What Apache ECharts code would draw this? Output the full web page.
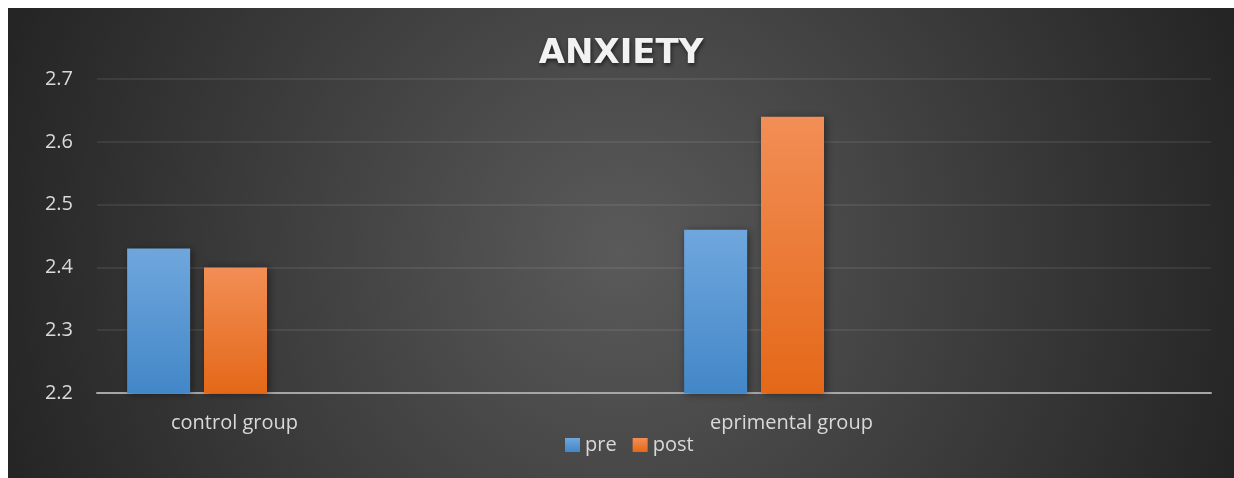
<!DOCTYPE html>
<html>
<head>
<meta charset="utf-8">
<script src="https://cdn.jsdelivr.net/npm/echarts@6/dist/echarts.min.js"></script>
<style>
  html, body { margin: 0; padding: 0; background: #ffffff; }
  #chart { position: absolute; left: 8px; top: 8px; width: 1226px; height: 470px; }
</style>
</head>
<body>
<div id="chart"></div>
<script>
const categories = ['control group', 'eprimental group']
const preData = [2.43, 2.46]
const postData = [2.40, 2.64]
const yTicks = [2.2, 2.3, 2.4, 2.5, 2.6, 2.7]

const textFont = 'Open Sans'

function barGradient(top, bottom) {
  return new echarts.graphic.LinearGradient(0, 0, 0, 1, [
    { offset: 0, color: top },
    { offset: 1, color: bottom }
  ])
}

const chart = echarts.init(document.getElementById('chart'))

chart.setOption({
  backgroundColor: {
    type: 'radial',
    x: 0.5, y: 0.52, r: 1.4,
    colorStops: [
      { offset: 0, color: '#5a5a5a' },
      { offset: 1, color: '#242424' }
    ]
  },
  animation: false,
  title: {
    text: 'ANXIETY',
    left: 'center',
    top: 24,
    textStyle: {
      fontFamily: 'DejaVu Sans',
      fontWeight: 'bold',
      fontSize: 34,
      color: '#f2f2f2',
      textShadowColor: 'rgba(0,0,0,0.6)',
      textShadowBlur: 4,
      textShadowOffsetX: 1,
      textShadowOffsetY: 2
    }
  },
  legend: {
    data: ['pre', 'post'],
    top: 422,
    left: 552,
    itemWidth: 15,
    itemHeight: 14,
    itemGap: 16,
    icon: 'rect',
    textStyle: { fontFamily: textFont, fontSize: 20, color: '#d9d9d9' }
  },
  grid: { left: 89, right: 23, top: 71, bottom: 85 },
  xAxis: {
    type: 'category',
    data: categories,
    axisTick: { show: false },
    axisLine: { lineStyle: { color: '#a6a6a6', width: 2 } },
    axisLabel: {
      fontFamily: textFont,
      fontSize: 20,
      color: '#d9d9d9',
      margin: 20,
      padding: [0, 282, 0, 0]
    }
  },
  yAxis: {
    type: 'value',
    min: yTicks[0],
    max: yTicks[yTicks.length - 1],
    interval: 0.1,
    axisLine: { show: false },
    axisTick: { show: false },
    splitLine: { lineStyle: { color: 'rgba(255,255,255,0.1)', width: 1.5 } },
    axisLabel: {
      fontFamily: textFont,
      fontSize: 20,
      color: '#d9d9d9',
      margin: 24,
      formatter: v => v.toFixed(1)
    }
  },
  series: [
    {
      name: 'pre',
      type: 'bar',
      data: preData,
      barWidth: 63,
      barGap: '22%',
      itemStyle: {
        color: barGradient('#6fa7dd', '#4387c8'),
        shadowColor: 'rgba(0,0,0,0.45)',
        shadowBlur: 8,
        shadowOffsetX: 2,
        shadowOffsetY: 1
      }
    },
    {
      name: 'post',
      type: 'bar',
      data: postData,
      barWidth: 63,
      barGap: '22%',
      itemStyle: {
        color: barGradient('#f28e56', '#e46818'),
        shadowColor: 'rgba(0,0,0,0.45)',
        shadowBlur: 8,
        shadowOffsetX: 2,
        shadowOffsetY: 1
      }
    },
    {
      name: 'spacer',
      type: 'bar',
      data: ['-', '-'],
      barWidth: 343,
      barGap: '22%',
      silent: true
    }
  ]
})
</script>
</body>
</html>
